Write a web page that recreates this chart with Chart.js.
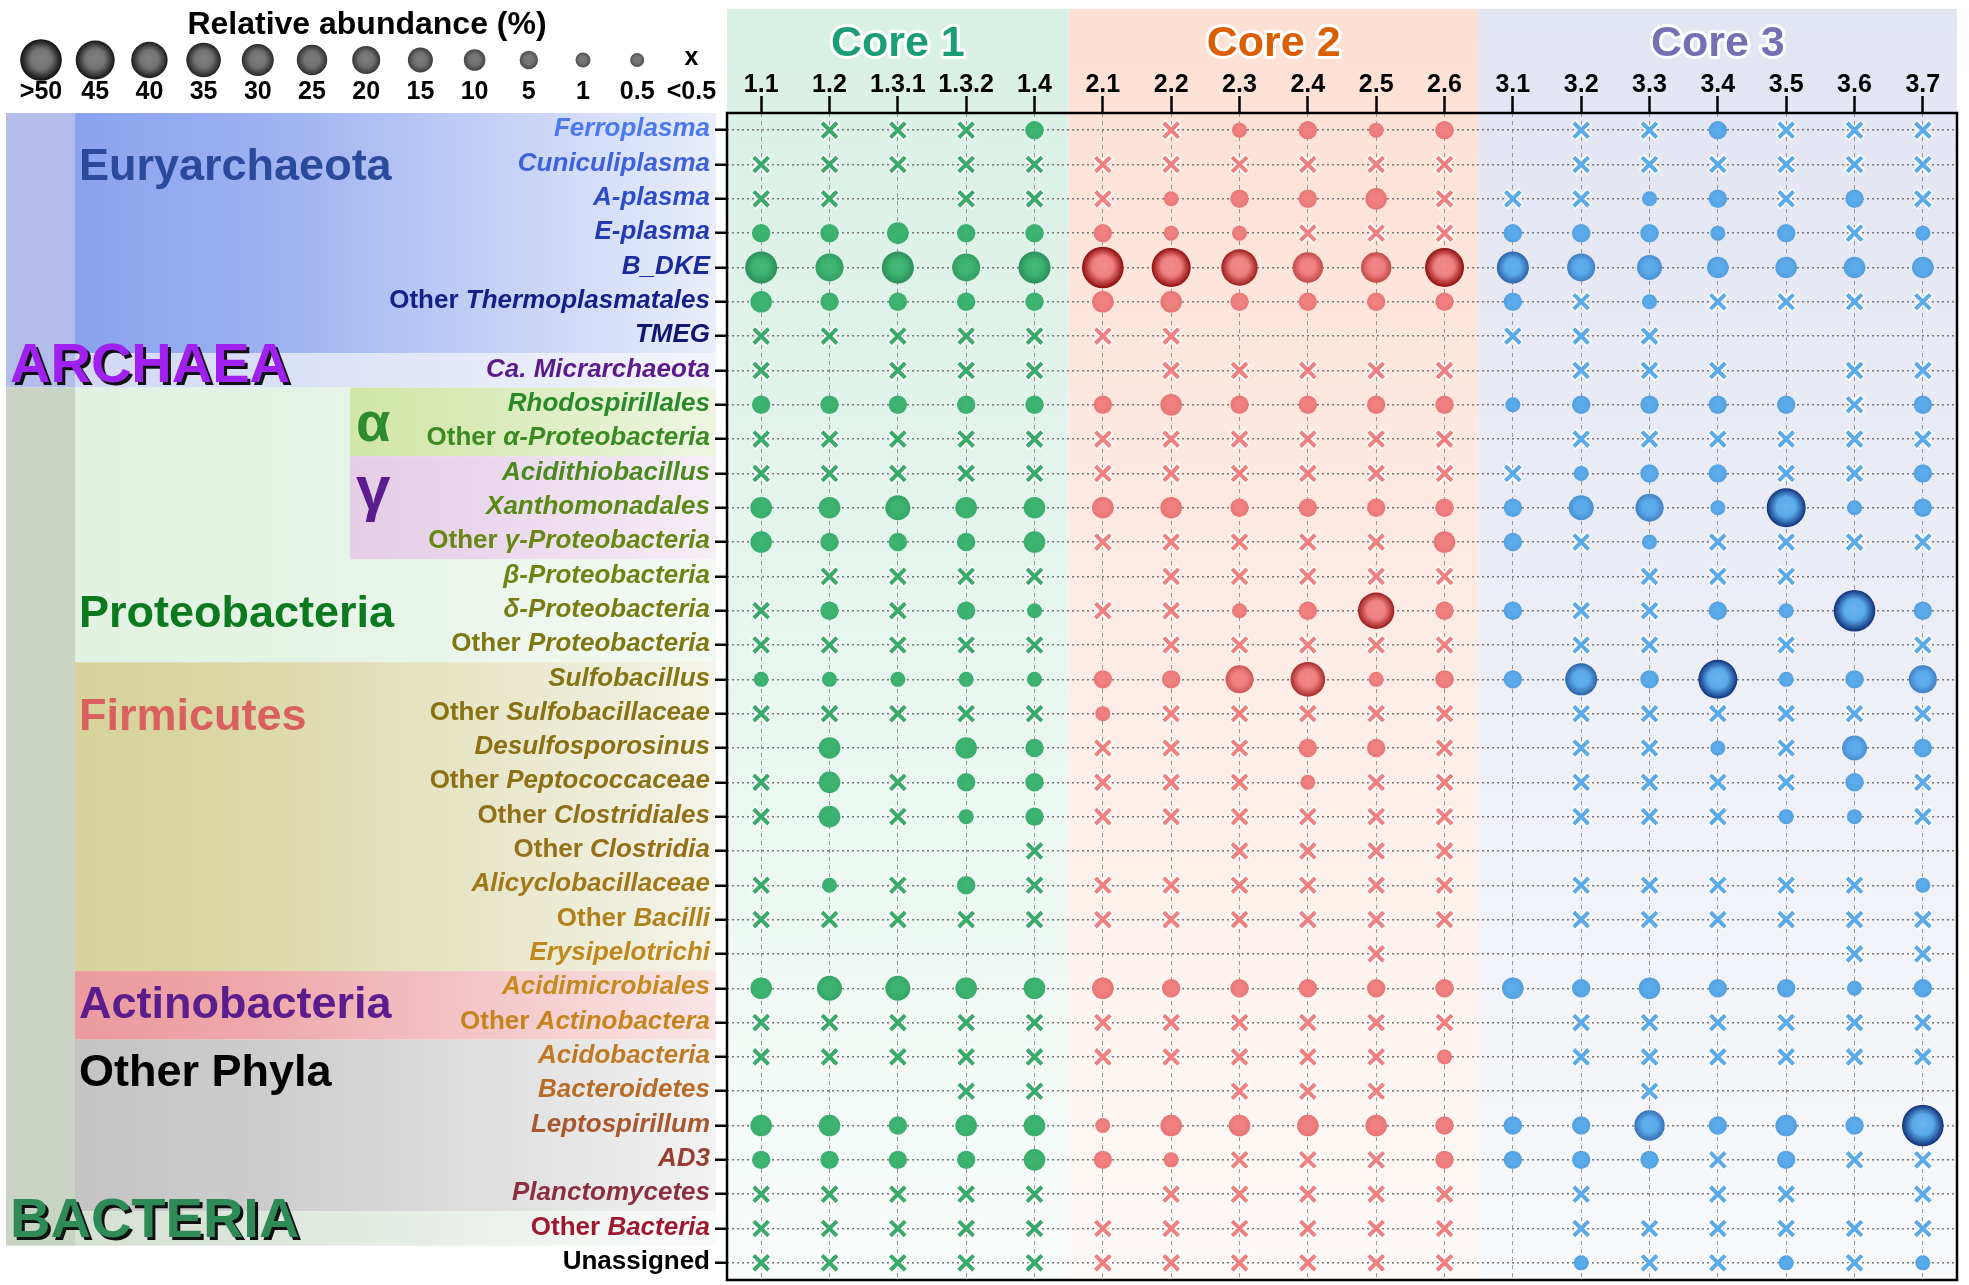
<!DOCTYPE html>
<html>
<head>
<meta charset="utf-8">
<title>Relative abundance per core sample</title>
<script src="https://cdn.jsdelivr.net/npm/chart.js@4.4.1/dist/chart.umd.min.js"></script>
<style>
  html, body { margin: 0; padding: 0; background: #fff; }
  #wrap { width: 1969px; height: 1285px; position: relative; }
</style>
</head>
<body>
<div id="wrap"><canvas id="chart"></canvas></div>
<script>
// --- data ---
const taxa = [
  'Ferroplasma', 'Cuniculiplasma', 'A-plasma', 'E-plasma', 'B_DKE',
  'Other Thermoplasmatales', 'TMEG', 'Ca. Micrarchaeota',
  'Rhodospirillales', 'Other α-Proteobacteria', 'Acidithiobacillus', 'Xanthomonadales',
  'Other γ-Proteobacteria', 'β-Proteobacteria', 'δ-Proteobacteria', 'Other Proteobacteria',
  'Sulfobacillus', 'Other Sulfobacillaceae', 'Desulfosporosinus', 'Other Peptococcaceae',
  'Other Clostridiales', 'Other Clostridia', 'Alicyclobacillaceae', 'Other Bacilli',
  'Erysipelotrichi', 'Acidimicrobiales', 'Other Actinobactera', 'Acidobacteria',
  'Bacteroidetes', 'Leptospirillum', 'AD3', 'Planctomycetes', 'Other Bacteria', 'Unassigned'
];
const core1Samples = ['1.1', '1.2', '1.3.1', '1.3.2', '1.4'];
const core2Samples = ['2.1', '2.2', '2.3', '2.4', '2.5', '2.6'];
const core3Samples = ['3.1', '3.2', '3.3', '3.4', '3.5', '3.6', '3.7'];
const coreNames = ['Core 1', 'Core 2', 'Core 3'];

// relative abundance (%): null = not detected, 0 = <0.5 (drawn as x)
const _ = null;
const core1Abundance = [
  [_, 0, 0, 0, 5], [0, 0, 0, 0, 0], [0, 0, _, 0, 0], [5, 5, 10, 5, 5], [30, 20, 30, 20, 30],
  [10, 5, 5, 5, 5], [0, 0, 0, 0, 0], [0, _, 0, 0, 0],
  [5, 5, 5, 5, 5], [0, 0, 0, 0, 0], [0, 0, 0, 0, 0], [10, 10, 15, 10, 10],
  [10, 5, 5, 5, 10], [_, 0, 0, 0, 0], [0, 5, 0, 5, 1], [0, 0, 0, 0, 0],
  [1, 1, 1, 1, 1], [0, 0, 0, 0, 0], [_, 10, _, 10, 5], [0, 10, 0, 5, 5],
  [0, 10, 0, 1, 5], [_, _, _, _, 0], [0, 1, 0, 5, 0], [0, 0, 0, 0, 0],
  [_, _, _, _, _], [10, 15, 15, 10, 10], [0, 0, 0, 0, 0], [0, 0, 0, 0, 0],
  [_, _, _, 0, 0], [10, 10, 5, 10, 10], [5, 5, 5, 5, 10], [0, 0, 0, 0, 0], [0, 0, 0, 0, 0], [0, 0, 0, 0, 0]
];
const core2Abundance = [
  [_, 0, 1, 5, 1, 5], [0, 0, 0, 0, 0, 0], [0, 1, 5, 5, 10, 0], [5, 1, 1, 0, 0, 0], [50, 45, 40, 25, 25, 45],
  [10, 10, 5, 5, 5, 5], [0, 0, _, _, _, _], [_, 0, 0, 0, 0, 0],
  [5, 10, 5, 5, 5, 5], [0, 0, 0, 0, 0, 0], [0, 0, 0, 0, 0, 0], [10, 10, 5, 5, 5, 5],
  [0, 0, 0, 0, 0, 10], [_, 0, 0, 0, 0, 0], [0, 0, 1, 5, 40, 5], [_, 0, 0, 0, 0, 0],
  [5, 5, 20, 35, 1, 5], [1, 0, 0, 0, 0, 0], [0, 0, 0, 5, 5, 0], [0, 0, 0, 1, 0, 0],
  [0, 0, 0, 0, 0, 0], [_, _, 0, 0, 0, 0], [0, 0, 0, 0, 0, 0], [0, 0, 0, 0, 0, 0],
  [_, _, _, _, 0, _], [10, 5, 5, 5, 5, 5], [0, 0, 0, 0, 0, 0], [0, 0, 0, 0, 0, 1],
  [_, _, 0, 0, 0, _], [1, 10, 10, 10, 10, 5], [5, 1, 0, 0, 0, 5], [_, 0, 0, 0, 0, 0], [0, 0, 0, 0, 0, 0], [0, 0, 0, 0, 0, 0]
];
const core3Abundance = [
  [_, 0, 0, 5, 0, 0, 0], [_, 0, 0, 0, 0, 0, 0], [0, 0, 1, 5, 0, 5, 0], [5, 5, 5, 1, 5, 0, 1], [30, 20, 15, 10, 10, 10, 10],
  [5, 0, 1, 0, 0, 0, 0], [0, 0, 0, _, _, _, _], [_, 0, 0, 0, _, 0, 0],
  [1, 5, 5, 5, 5, 0, 5], [_, 0, 0, 0, 0, 0, 0], [0, 1, 5, 5, 0, 0, 5], [5, 15, 20, 1, 45, 1, 5],
  [5, 0, 1, 0, 0, 0, 0], [_, _, 0, 0, 0, _, _], [5, 0, 0, 5, 1, 50, 5], [_, 0, 0, _, 0, _, 0],
  [5, 30, 5, 45, 1, 5, 20], [_, 0, 0, 0, 0, 0, 0], [_, 0, 0, 1, 0, 15, 5], [_, 0, 0, 0, 0, 5, 0],
  [_, 0, 0, 0, 1, 1, 0], [_, _, _, _, _, _, _], [_, 0, 0, 0, 0, 0, 1], [_, 0, 0, 0, 0, 0, 0],
  [_, _, _, _, _, 0, 0], [10, 5, 10, 5, 5, 1, 5], [_, 0, 0, 0, 0, 0, 0], [_, 0, 0, 0, 0, 0, 0],
  [_, _, 0, _, _, _, _], [5, 5, 25, 5, 10, 5, 50], [5, 5, 5, 0, 5, 0, 0], [_, 0, _, 0, 0, _, 0], [_, 0, 0, 0, 0, 0, 0], [_, 1, 0, 0, 1, 0, 1]
];

// size legend
const legendLabels = ['>50', '45', '40', '35', '30', '25', '20', '15', '10', '5', '1', '0.5', '<0.5'];
const legendValues = [50, 45, 40, 35, 30, 25, 20, 15, 10, 5, 1, 0.5, 0];

// taxonomy groups (row ranges)
const domainNames = ['ARCHAEA', 'BACTERIA'];
const domainRows = [[0, 7], [8, 32]];
const phylumNames = ['Euryarchaeota', '', 'Proteobacteria', 'Firmicutes', 'Actinobacteria', 'Other Phyla', ''];
const phylumRows = [[0, 6], [7, 7], [8, 15], [16, 24], [25, 26], [27, 31], [32, 32]];
const classNames = ['α', 'γ'];
const classRows = [[8, 9], [10, 12]];

// --- styles ---
const FONT = '"Liberation Sans", Arial, Helvetica, sans-serif';
const sizeLevels = [0.5, 1, 5, 10, 15, 20, 25, 30, 35, 40, 45, 50];
const sizeRadii = [7, 7.5, 9.2, 10.8, 12.5, 14, 15.2, 16, 17.3, 18.2, 19.5, 20.8];
const labelColors = [
  '#4a78f0', '#3d62da', '#2f4cc8', '#2539b2', '#1c2b9c', '#141f88', '#0f1570', '#5b1a8a',
  '#2a8a2a', '#3a8a22', '#4a8a1c', '#588a12', '#668810', '#708212', '#787c12', '#7e7812',
  '#857512', '#887212', '#8a7012', '#8c7014', '#907016', '#957018', '#a07818', '#b0801a',
  '#bf881c', '#c6891c', '#c6841e', '#c07a24', '#b86c28', '#a8582c', '#983e30', '#8c2e40', '#a01830', '#000000'
];
const corePalette = [
  { fill: '#3cb371', edge: '#23744a', cross: '#3aaa6b', title: '#1b9e77', bandTop: '#d9f0e5', bandBottom: '#f8fcfa' },
  { fill: '#f08080', edge: '#8e0a0a', cross: '#f08080', title: '#d95f02', bandTop: '#fde0d4', bandBottom: '#fdf9f7' },
  { fill: '#5aaaea', edge: '#10307a', cross: '#5aaaea', title: '#7570b3', bandTop: '#e2e5f2', bandBottom: '#f8f9fb' }
];
const domainStyle = [
  { strip: '#b4bde9', text: '#a020f0', row: 6.9 },
  { strip: '#c9d4c5', text: '#2e8b57', row: 31.8 }
];
const phylumStyle = [
  { from: '#8aa2ef', to: '#e9eefb', text: '#2b4a9c', row: 1.1 },
  { from: '#d3d9f4', to: '#f3f5fc', text: '#000', row: 7 },
  { from: '#e2f1e2', to: '#f3f9f3', text: '#0b7a1f', row: 14.1 },
  { from: '#d6d29a', to: '#f4f4ea', text: '#d9605f', row: 17.1 },
  { from: '#eb9a9e', to: '#fae6e6', text: '#5b1d8e', row: 25.5 },
  { from: '#c4c4c4', to: '#f2f2f2', text: '#000000', row: 27.5 },
  { from: '#d6e0d4', to: '#fafcfa', text: '#000', row: 32 }
];
const classStyle = [
  { from: '#d2e6a8', to: '#eef6e2', text: '#2e8b2e', row: 8.6, size: 56 },
  { from: '#e6cde8', to: '#f6eef7', text: '#5b1d8e', row: 10.55, size: 62 }
];

function radiusFor(v) {
  if (v <= sizeLevels[0]) return sizeRadii[0];
  for (let i = 1; i < sizeLevels.length; i++) {
    if (v <= sizeLevels[i]) {
      const t = (v - sizeLevels[i - 1]) / (sizeLevels[i] - sizeLevels[i - 1]);
      return sizeRadii[i - 1] + t * (sizeRadii[i] - sizeRadii[i - 1]);
    }
  }
  return sizeRadii[sizeRadii.length - 1];
}

function hexRgb(h) {
  const n = parseInt(h.slice(1), 16);
  return [(n >> 16) & 255, (n >> 8) & 255, n & 255];
}
function mix(a, b, t) {
  const p = hexRgb(a), q = hexRgb(b);
  return 'rgb(' + p.map((c, i) => Math.round(c + (q[i] - c) * t)).join(',') + ')';
}

// radial shading: bigger bubbles get a darker rim
function bubbleGradient(ctx2d, cx, cy, r, t, fill, edge) {
  const g = ctx2d.createRadialGradient(cx, cy - r * 0.1, 0, cx, cy, r);
  g.addColorStop(0, mix(fill, '#ffffff', 0.1 * t));
  g.addColorStop(0.5, fill);
  g.addColorStop(1, mix(fill, edge, Math.min(1, t)));
  return g;
}
const rimFor = (v) => Math.max(0.08, Math.min(1, (v - 6) / 40));

function buildPoints(samples, values, crosses) {
  const pts = [];
  values.forEach((row, i) => row.forEach((v, j) => {
    if (v === null || (v === 0) !== crosses) return;
    pts.push(crosses ? { x: samples[j], y: taxa[i] } : { x: samples[j], y: taxa[i], r: radiusFor(v), v: v });
  }));
  return pts;
}

const coreSamples = [core1Samples, core2Samples, core3Samples];
const coreValues = [core1Abundance, core2Abundance, core3Abundance];
const allSamples = core1Samples.concat(core2Samples, core3Samples);

const datasets = [];
coreSamples.forEach((samples, k) => {
  const pal = corePalette[k];
  datasets.push({
    label: coreNames[k],
    data: buildPoints(samples, coreValues[k], false),
    borderWidth: 0,
    order: 1,
    backgroundColor: (c) => {
      const sc = c.chart.scales;
      if (c.type !== 'data' || !c.raw || !c.parsed || !sc || !sc.x || !sc.y) return pal.fill;
      const cx = sc.x.getPixelForValue(c.parsed.x);
      const cy = sc.y.getPixelForValue(c.parsed.y);
      if (!isFinite(cx) || !isFinite(cy)) return pal.fill;
      return bubbleGradient(c.chart.ctx, cx, cy, c.raw.r, rimFor(c.raw.v), pal.fill, pal.edge);
    }
  });
  const crossPts = buildPoints(samples, coreValues[k], true);
  datasets.push({
    label: coreNames[k] + ' <0.5',
    data: crossPts,
    pointStyle: 'crossRot',
    radius: 10.5,
    borderWidth: 4,
    borderColor: pal.cross,
    backgroundColor: pal.cross,
    order: 2
  });
  datasets.push({
    label: coreNames[k] + ' halo',
    data: crossPts,
    pointStyle: 'crossRot',
    radius: 11.5,
    borderWidth: 7.5,
    borderColor: 'rgba(255,255,255,0.95)',
    backgroundColor: '#fff',
    order: 3
  });
});

function rowPixel(y, r) {
  const p0 = y.getPixelForValue(0), p1 = y.getPixelForValue(1);
  return p0 + r * (p1 - p0);
}

function hGradient(ctx, x0, x1, from, to) {
  const g = ctx.createLinearGradient(x0, 0, x1, 0);
  g.addColorStop(0, from);
  g.addColorStop(0.3, mix(from, to, 0.2));
  g.addColorStop(1, to);
  return g;
}

const decor = {
  id: 'decor',
  beforeDraw(chart) {
    const { ctx, chartArea: a, scales: { x, y } } = chart;
    ctx.save();
    ctx.fillStyle = '#fff';
    ctx.fillRect(0, 0, chart.width, chart.height);

    // core bands behind the grid
    const step = x.getPixelForValue(1) - x.getPixelForValue(0);
    let start = 0;
    coreSamples.forEach((s, k) => {
      const x0 = k === 0 ? a.left : x.getPixelForValue(start) - step / 2;
      const x1 = k === coreSamples.length - 1 ? a.right : x.getPixelForValue(start + s.length - 1) + step / 2;
      const g = ctx.createLinearGradient(0, 10, 0, a.bottom);
      g.addColorStop(0, corePalette[k].bandTop);
      g.addColorStop(0.35, mix(corePalette[k].bandTop, corePalette[k].bandBottom, 0.3));
      g.addColorStop(1, corePalette[k].bandBottom);
      ctx.fillStyle = g;
      ctx.fillRect(x0, 9, x1 - x0, a.bottom - 9);
      start += s.length;
    });

    // taxonomy panel
    const half = (y.getPixelForValue(1) - y.getPixelForValue(0)) / 2;
    const top = (r) => y.getPixelForValue(r) - half;
    const bot = (r) => y.getPixelForValue(r) + half;
    domainRows.forEach((rr, i) => {
      ctx.fillStyle = domainStyle[i].strip;
      ctx.fillRect(6, top(rr[0]), 69, bot(rr[1]) - top(rr[0]));
    });
    phylumRows.forEach((rr, i) => {
      const st = phylumStyle[i];
      ctx.fillStyle = hGradient(ctx, 75, 716, st.from, st.to);
      ctx.fillRect(75, top(rr[0]), 641, bot(rr[1]) - top(rr[0]));
    });
    classRows.forEach((rr, i) => {
      const st = classStyle[i];
      ctx.fillStyle = hGradient(ctx, 350, 716, st.from, st.to);
      ctx.fillRect(350, top(rr[0]), 366, bot(rr[1]) - top(rr[0]));
    });
    ctx.restore();
  },
  afterDatasetsDraw(chart) {
    const { ctx, chartArea: a, scales: { x, y } } = chart;
    ctx.save();

    // frame
    ctx.strokeStyle = '#000';
    ctx.lineWidth = 2.5;
    ctx.strokeRect(a.left, a.top, a.right - a.left, a.bottom - a.top);

    // row labels, "Other" upright and names italic
    ctx.textBaseline = 'middle';
    taxa.forEach((name, i) => {
      let parts;
      if (name === 'Unassigned') parts = [[name, false]];
      else if (name.startsWith('Other ')) parts = [['Other ', false], [name.slice(6), true]];
      else parts = [[name, true]];
      const fonts = parts.map(p => (p[1] ? 'italic ' : '') + 'bold 26px ' + FONT);
      let w = 0;
      parts.forEach((p, j) => { ctx.font = fonts[j]; w += ctx.measureText(p[0]).width; });
      let px = a.left - 17 - w;
      const py = y.getPixelForValue(i) - 1;
      ctx.fillStyle = labelColors[i];
      parts.forEach((p, j) => {
        ctx.font = fonts[j];
        ctx.textAlign = 'left';
        ctx.fillText(p[0], px, py);
        px += ctx.measureText(p[0]).width;
      });
    });

    // group names
    ctx.textAlign = 'left';
    phylumNames.forEach((n, i) => {
      if (!n) return;
      ctx.font = 'bold 45px ' + FONT;
      ctx.fillStyle = phylumStyle[i].text;
      ctx.fillText(n, 79, rowPixel(y, phylumStyle[i].row));
    });
    classNames.forEach((n, i) => {
      ctx.font = 'bold ' + classStyle[i].size + 'px ' + FONT;
      ctx.fillStyle = classStyle[i].text;
      ctx.fillText(n, 356, rowPixel(y, classStyle[i].row));
    });
    domainNames.forEach((n, i) => {
      const py = rowPixel(y, domainStyle[i].row);
      ctx.font = 'bold 56px ' + FONT;
      ctx.fillStyle = '#111';
      ctx.fillText(n, 13, py + 3);
      ctx.fillStyle = domainStyle[i].text;
      ctx.fillText(n, 10, py);
    });

    // core titles
    let start = 0;
    ctx.textAlign = 'center';
    ctx.font = 'bold 43px ' + FONT;
    ctx.lineJoin = 'round';
    const step = x.getPixelForValue(1) - x.getPixelForValue(0);
    coreSamples.forEach((s, k) => {
      const x0 = k === 0 ? a.left : x.getPixelForValue(start) - step / 2;
      const x1 = k === coreSamples.length - 1 ? a.right : x.getPixelForValue(start + s.length - 1) + step / 2;
      const cx = (x0 + x1) / 2;
      ctx.lineWidth = 6;
      ctx.strokeStyle = '#fff';
      ctx.strokeText(coreNames[k], cx, 44);
      ctx.fillStyle = corePalette[k].title;
      ctx.fillText(coreNames[k], cx, 44);
      start += s.length;
    });

    // size legend
    ctx.fillStyle = '#000';
    ctx.font = 'bold 32px ' + FONT;
    ctx.fillText('Relative abundance (%)', 367, 25);
    legendValues.forEach((v, i) => {
      const cx = 41 + i * 54.2, cy = 60;
      if (v === 0) {
        ctx.font = 'bold 25px ' + FONT;
        ctx.fillStyle = '#000';
        ctx.fillText('x', cx, cy - 2);
      } else {
        const r = radiusFor(v);
        ctx.fillStyle = bubbleGradient(ctx, cx, cy, r, 0.35 + 0.65 * v / 50, '#737373', '#0d0d0d');
        ctx.beginPath();
        ctx.arc(cx, cy, r, 0, Math.PI * 2);
        ctx.fill();
      }
      ctx.font = 'bold 25px ' + FONT;
      ctx.fillStyle = '#000';
      ctx.fillText(legendLabels[i], cx, 92);
    });
    ctx.restore();
  }
};

new Chart(document.getElementById('chart'), {
  type: 'bubble',
  data: { datasets: datasets },
  plugins: [decor],
  options: {
    responsive: true,
    maintainAspectRatio: false,
    animation: false,
    events: [],
    layout: { autoPadding: false, padding: { top: 0, left: 0, right: 12, bottom: 5 } },
    plugins: { legend: { display: false }, tooltip: { enabled: false } },
    scales: {
      x: {
        type: 'category',
        labels: allSamples,
        position: 'top',
        offset: true,
        afterFit: (s) => { s.height = 113; },
        grid: { color: 'rgba(120,120,120,0.75)', lineWidth: 1, tickLength: 17, tickColor: '#000', tickWidth: 2.5 },
        border: { display: false, dash: [4, 4] },
        ticks: { color: '#000', font: { family: FONT, size: 25, weight: 'bold', lineHeight: 0.85 }, padding: 0, autoSkip: false, maxRotation: 0 }
      },
      y: {
        type: 'category',
        labels: taxa,
        offset: true,
        afterFit: (s) => { s.width = 727; },
        grid: { color: '#777777', lineWidth: 1.5, tickLength: 12, tickColor: '#000', tickWidth: 2.5 },
        border: { display: false, dash: [2, 3] },
        ticks: { display: false }
      }
    }
  }
});
</script>
</body>
</html>
